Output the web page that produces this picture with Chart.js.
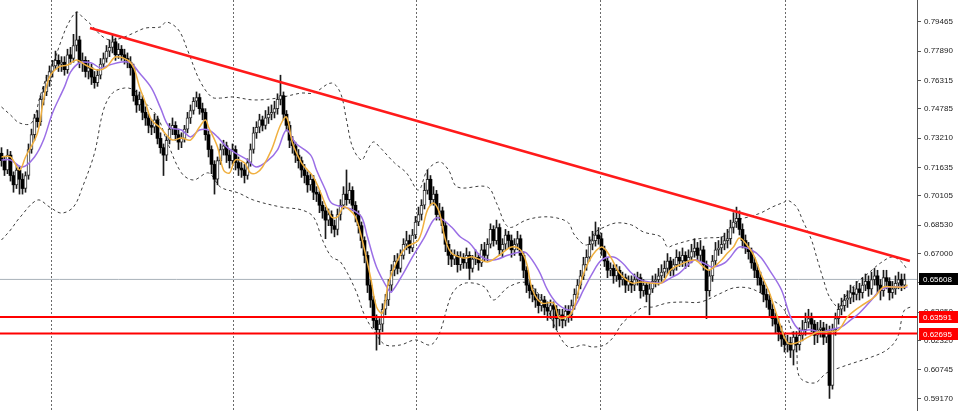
<!DOCTYPE html>
<html>
<head>
<meta charset="utf-8">
<script src="https://cdn.jsdelivr.net/npm/chart.js@4.4.1/dist/chart.umd.min.js"></script>
<style>
html,body{margin:0;padding:0;background:#fff;overflow:hidden}
#wrap{width:960px;height:411px}
</style>
</head>
<body>
<div id="wrap"><canvas id="can" width="960" height="411"></canvas></div>
<script>
// candles, one per bar (bar index = position in the arrays)
const opens = [
0.724,0.720,0.715,0.723,0.712,0.707,0.715,0.710,0.705,0.712,
0.726,0.734,0.743,0.741,0.753,0.757,0.763,0.768,0.771,0.774,
0.772,0.773,0.769,0.777,0.775,0.782,0.785,0.773,0.774,0.768,
0.770,0.765,0.762,0.766,0.772,0.775,0.779,0.781,0.784,0.777,
0.780,0.777,0.775,0.773,0.770,0.755,0.750,0.753,0.746,0.743,
0.739,0.738,0.742,0.732,0.727,0.723,0.731,0.737,0.739,0.734,
0.730,0.732,0.737,0.743,0.747,0.752,0.754,0.748,0.746,0.734,
0.726,0.718,0.710,0.720,0.726,0.728,0.723,0.720,0.726,0.719,
0.716,0.715,0.712,0.719,0.726,0.735,0.738,0.742,0.739,0.743,
0.745,0.746,0.748,0.753,0.755,0.745,0.739,0.731,0.728,0.723,
0.720,0.715,0.712,0.707,0.710,0.703,0.702,0.696,0.693,0.688,
0.691,0.685,0.683,0.691,0.696,0.702,0.699,0.704,0.696,0.691,
0.685,0.677,0.669,0.653,0.645,0.634,0.629,0.632,0.640,0.645,
0.653,0.661,0.666,0.662,0.669,0.675,0.677,0.673,0.680,0.687,
0.691,0.696,0.704,0.710,0.699,0.702,0.691,0.693,0.685,0.675,
0.669,0.667,0.669,0.664,0.668,0.665,0.669,0.662,0.667,0.668,
0.665,0.672,0.669,0.675,0.683,0.677,0.684,0.672,0.675,0.680,
0.677,0.672,0.675,0.678,0.669,0.661,0.653,0.650,0.648,0.645,
0.642,0.645,0.641,0.639,0.642,0.640,0.635,0.637,0.634,0.639,
0.637,0.642,0.648,0.653,0.658,0.664,0.668,0.675,0.677,0.680,
0.678,0.672,0.666,0.661,0.662,0.658,0.661,0.656,0.657,0.653,
0.655,0.653,0.656,0.657,0.650,0.653,0.648,0.651,0.655,0.656,
0.658,0.660,0.662,0.666,0.661,0.664,0.668,0.666,0.669,0.666,
0.668,0.671,0.673,0.669,0.672,0.664,0.650,0.658,0.666,0.672,
0.673,0.675,0.677,0.678,0.684,0.687,0.689,0.683,0.677,0.673,
0.671,0.665,0.661,0.657,0.653,0.648,0.645,0.640,0.635,0.632,
0.628,0.624,0.621,0.622,0.618,0.625,0.621,0.626,0.629,0.633,
0.635,0.632,0.626,0.629,0.630,0.625,0.628,0.599,0.629,0.635,
0.640,0.642,0.645,0.646,0.649,0.648,0.651,0.649,0.653,0.655,
0.651,0.656,0.658,0.653,0.650,0.657,0.655,0.649,0.651,0.654,0.656,0.653
]
const highs = [
0.727,0.722,0.726,0.725,0.714,0.718,0.717,0.713,0.714,0.729,
0.737,0.745,0.747,0.755,0.760,0.766,0.771,0.774,0.779,0.777,
0.776,0.776,0.780,0.781,0.788,0.800,0.787,0.778,0.776,0.774,
0.772,0.768,0.769,0.775,0.778,0.782,0.785,0.788,0.786,0.783,
0.782,0.780,0.778,0.776,0.772,0.758,0.757,0.755,0.749,0.745,
0.742,0.745,0.744,0.735,0.729,0.733,0.740,0.743,0.741,0.737,
0.735,0.739,0.746,0.750,0.754,0.757,0.756,0.751,0.748,0.736,
0.728,0.720,0.722,0.729,0.731,0.730,0.726,0.729,0.728,0.722,
0.719,0.718,0.721,0.729,0.738,0.741,0.745,0.744,0.747,0.749,
0.750,0.752,0.756,0.766,0.757,0.747,0.741,0.733,0.730,0.726,
0.722,0.718,0.714,0.713,0.712,0.706,0.704,0.698,0.695,0.694,
0.693,0.688,0.694,0.699,0.706,0.715,0.708,0.706,0.698,0.693,
0.687,0.679,0.671,0.656,0.647,0.637,0.635,0.643,0.648,0.656,
0.664,0.669,0.670,0.672,0.678,0.682,0.680,0.683,0.690,0.695,
0.699,0.708,0.715,0.712,0.706,0.704,0.697,0.695,0.687,0.677,
0.672,0.672,0.671,0.671,0.670,0.673,0.671,0.669,0.672,0.670,
0.675,0.676,0.678,0.686,0.685,0.688,0.686,0.678,0.683,0.682,
0.680,0.678,0.682,0.680,0.671,0.663,0.656,0.653,0.651,0.648,
0.648,0.647,0.644,0.645,0.644,0.642,0.640,0.640,0.642,0.642,
0.645,0.651,0.656,0.661,0.668,0.672,0.679,0.682,0.687,0.684,
0.681,0.674,0.668,0.665,0.664,0.664,0.663,0.660,0.659,0.658,
0.658,0.659,0.660,0.659,0.656,0.655,0.654,0.658,0.659,0.662,
0.664,0.666,0.670,0.668,0.667,0.672,0.671,0.673,0.671,0.672,
0.675,0.678,0.676,0.677,0.674,0.666,0.661,0.669,0.676,0.677,
0.679,0.681,0.683,0.688,0.692,0.695,0.693,0.686,0.680,0.676,
0.673,0.668,0.664,0.660,0.655,0.651,0.648,0.643,0.638,0.635,
0.631,0.627,0.626,0.625,0.628,0.628,0.630,0.634,0.638,0.640,
0.638,0.634,0.633,0.634,0.633,0.632,0.631,0.632,0.638,0.643,
0.646,0.648,0.650,0.653,0.652,0.655,0.654,0.657,0.659,0.658,
0.660,0.662,0.661,0.656,0.661,0.661,0.657,0.655,0.658,0.660,0.659,0.659
]
const lows = [
0.717,0.712,0.713,0.709,0.703,0.705,0.702,0.702,0.703,0.710,
0.724,0.731,0.738,0.739,0.750,0.755,0.760,0.765,0.769,0.768,
0.768,0.766,0.767,0.772,0.773,0.779,0.770,0.768,0.765,0.764,
0.761,0.759,0.760,0.764,0.770,0.773,0.776,0.778,0.774,0.775,
0.774,0.772,0.770,0.766,0.752,0.746,0.747,0.742,0.739,0.735,
0.734,0.735,0.729,0.724,0.712,0.720,0.729,0.734,0.731,0.726,
0.727,0.730,0.735,0.740,0.745,0.749,0.745,0.742,0.731,0.722,
0.713,0.702,0.707,0.718,0.723,0.719,0.716,0.718,0.715,0.712,
0.711,0.708,0.710,0.717,0.724,0.732,0.735,0.736,0.737,0.740,
0.742,0.743,0.745,0.750,0.742,0.736,0.727,0.724,0.719,0.716,
0.711,0.708,0.703,0.704,0.699,0.698,0.692,0.689,0.678,0.685,
0.681,0.679,0.680,0.688,0.694,0.696,0.697,0.693,0.687,0.681,
0.673,0.665,0.649,0.641,0.630,0.618,0.621,0.628,0.637,0.642,
0.650,0.658,0.659,0.660,0.667,0.672,0.670,0.671,0.678,0.685,
0.688,0.694,0.702,0.696,0.696,0.688,0.688,0.681,0.671,0.664,
0.663,0.664,0.660,0.661,0.662,0.662,0.656,0.660,0.664,0.661,
0.663,0.666,0.666,0.673,0.674,0.675,0.669,0.668,0.672,0.673,
0.668,0.669,0.672,0.666,0.657,0.649,0.646,0.644,0.641,0.638,
0.639,0.637,0.634,0.635,0.630,0.629,0.631,0.630,0.631,0.633,
0.634,0.640,0.646,0.651,0.656,0.661,0.666,0.672,0.674,0.675,
0.669,0.663,0.657,0.658,0.654,0.655,0.652,0.653,0.649,0.650,
0.649,0.650,0.653,0.646,0.647,0.644,0.637,0.649,0.652,0.653,
0.655,0.657,0.659,0.658,0.658,0.661,0.663,0.663,0.662,0.663,
0.665,0.668,0.666,0.666,0.661,0.635,0.647,0.655,0.663,0.669,
0.670,0.672,0.673,0.675,0.681,0.684,0.680,0.673,0.670,0.667,
0.662,0.657,0.653,0.649,0.644,0.641,0.636,0.631,0.627,0.623,
0.620,0.617,0.617,0.614,0.610,0.617,0.618,0.623,0.626,0.630,
0.628,0.621,0.622,0.625,0.621,0.622,0.592,0.597,0.626,0.632,
0.637,0.639,0.641,0.643,0.644,0.645,0.645,0.646,0.650,0.647,
0.648,0.653,0.649,0.645,0.647,0.651,0.645,0.646,0.648,0.651,0.650,0.651
]
const closes = [
0.720,0.715,0.723,0.712,0.707,0.715,0.710,0.705,0.712,0.726,
0.734,0.743,0.741,0.753,0.757,0.763,0.768,0.771,0.774,0.772,
0.773,0.769,0.777,0.775,0.782,0.785,0.773,0.774,0.768,0.770,
0.765,0.762,0.766,0.772,0.775,0.779,0.781,0.784,0.777,0.780,
0.777,0.775,0.773,0.770,0.755,0.750,0.753,0.746,0.743,0.739,
0.738,0.742,0.732,0.727,0.723,0.731,0.737,0.739,0.734,0.730,
0.732,0.737,0.743,0.747,0.752,0.754,0.748,0.746,0.734,0.726,
0.718,0.710,0.720,0.726,0.728,0.723,0.720,0.726,0.719,0.716,
0.715,0.712,0.719,0.726,0.735,0.738,0.742,0.739,0.743,0.745,
0.746,0.748,0.753,0.755,0.745,0.739,0.731,0.728,0.723,0.720,
0.715,0.712,0.707,0.710,0.703,0.702,0.696,0.693,0.688,0.691,
0.685,0.683,0.691,0.696,0.702,0.699,0.704,0.696,0.691,0.685,
0.677,0.669,0.653,0.645,0.634,0.629,0.632,0.640,0.645,0.653,
0.661,0.666,0.662,0.669,0.675,0.677,0.673,0.680,0.687,0.691,
0.696,0.704,0.710,0.699,0.702,0.691,0.693,0.685,0.675,0.669,
0.667,0.669,0.664,0.668,0.665,0.669,0.662,0.667,0.668,0.665,
0.672,0.669,0.675,0.683,0.677,0.684,0.672,0.675,0.680,0.677,
0.672,0.675,0.678,0.669,0.661,0.653,0.650,0.648,0.645,0.642,
0.645,0.641,0.639,0.642,0.640,0.635,0.637,0.634,0.639,0.637,
0.642,0.648,0.653,0.658,0.664,0.668,0.675,0.677,0.680,0.678,
0.672,0.666,0.661,0.662,0.658,0.661,0.656,0.657,0.653,0.655,
0.653,0.656,0.657,0.650,0.653,0.648,0.651,0.655,0.656,0.658,
0.660,0.662,0.666,0.661,0.664,0.668,0.666,0.669,0.666,0.668,
0.671,0.673,0.669,0.672,0.664,0.650,0.658,0.666,0.672,0.673,
0.675,0.677,0.678,0.684,0.687,0.689,0.683,0.677,0.673,0.671,
0.665,0.661,0.657,0.653,0.648,0.645,0.640,0.635,0.632,0.628,
0.624,0.621,0.622,0.618,0.625,0.621,0.626,0.629,0.633,0.635,
0.632,0.626,0.629,0.630,0.625,0.628,0.599,0.629,0.635,0.640,
0.642,0.645,0.646,0.649,0.648,0.651,0.649,0.653,0.655,0.651,
0.656,0.658,0.653,0.650,0.657,0.655,0.649,0.651,0.654,0.656,0.653,0.656
]

// indicator lines: [bar, price]
const fastMA = [[0,0.7220],[3,0.7220],[6,0.7150],[8,0.7220],[12,0.7349],[14,0.7527],[16,0.7650],[19,0.7704],[22,0.7715],[25,0.7742],[28,0.7715],[32,0.7688],[35,0.7704],[38,0.7758],[42,0.7742],[44,0.7704],[46,0.7597],[48,0.7511],[50,0.7419],[53,0.7376],[55,0.7338],[57,0.7311],[60,0.7322],[63,0.7311],[66,0.7381],[68,0.7419],[69,0.7381],[72,0.7274],[74,0.7150],[76,0.7134],[78,0.7204],[81,0.7188],[83,0.7134],[85,0.7134],[87,0.7166],[90,0.7258],[93,0.7392],[95,0.7435],[97,0.7295],[100,0.7188],[102,0.7150],[104,0.7112],[106,0.7042],[110,0.6897],[112,0.6897],[114,0.6951],[116,0.6935],[118,0.6897],[120,0.6789],[123,0.6574],[125,0.6412],[127,0.6380],[129,0.6542],[132,0.6665],[135,0.6735],[139,0.6773],[142,0.6935],[144,0.6972],[146,0.6918],[148,0.6773],[150,0.6703],[154,0.6676],[157,0.6682],[162,0.6655],[166,0.6692],[170,0.6735],[173,0.6719],[175,0.6649],[177,0.6504],[180,0.6434],[184,0.6434],[186,0.6353],[190,0.6380],[193,0.6542],[196,0.6665],[200,0.6735],[203,0.6682],[206,0.6595],[210,0.6542],[213,0.6547],[216,0.6542],[220,0.6542],[223,0.6611],[226,0.6639],[231,0.6665],[234,0.6628],[236,0.6611],[240,0.6665],[242,0.6703],[244,0.6735],[246,0.6784],[249,0.6735],[251,0.6682],[253,0.6595],[256,0.6488],[259,0.6342],[262,0.6219],[265,0.6219],[269,0.6251],[272,0.6278],[275,0.6278],[279,0.6289],[282,0.6359],[286,0.6412],[291,0.6466],[294,0.6520],[297,0.6520],[301,0.6520],[302,0.6531]]
const slowMA = [[0,0.7204],[3,0.7204],[7,0.7166],[11,0.7220],[14,0.7311],[17,0.7457],[21,0.7597],[23,0.7677],[26,0.7726],[30,0.7726],[33,0.7699],[36,0.7715],[40,0.7731],[43,0.7726],[46,0.7672],[50,0.7591],[53,0.7484],[56,0.7381],[60,0.7365],[63,0.7328],[66,0.7365],[69,0.7365],[72,0.7328],[75,0.7274],[78,0.7241],[82,0.7204],[85,0.7166],[89,0.7204],[92,0.7258],[95,0.7365],[98,0.7295],[103,0.7231],[105,0.7150],[108,0.7042],[110,0.6972],[114,0.6951],[117,0.6935],[120,0.6897],[122,0.6789],[125,0.6628],[129,0.6504],[130,0.6493],[134,0.6595],[137,0.6682],[141,0.6789],[144,0.6881],[146,0.6892],[150,0.6843],[153,0.6789],[156,0.6757],[160,0.6682],[164,0.6665],[169,0.6692],[173,0.6708],[175,0.6703],[179,0.6611],[182,0.6504],[185,0.6434],[189,0.6396],[191,0.6412],[194,0.6504],[197,0.6595],[200,0.6665],[204,0.6682],[207,0.6649],[210,0.6595],[213,0.6558],[216,0.6547],[220,0.6542],[223,0.6568],[226,0.6595],[231,0.6665],[234,0.6649],[237,0.6628],[241,0.6649],[243,0.6682],[246,0.6735],[250,0.6719],[253,0.6682],[256,0.6611],[260,0.6504],[263,0.6359],[266,0.6289],[270,0.6289],[273,0.6278],[276,0.6289],[280,0.6305],[283,0.6342],[286,0.6380],[290,0.6450],[293,0.6504],[296,0.6520],[300,0.6520],[302,0.6520]]
const upperBand = [[0,0.7489],[3,0.7446],[6,0.7403],[10,0.7403],[13,0.7554],[15,0.7650],[17,0.7715],[20,0.7850],[22,0.7930],[25,0.8000],[27,0.7973],[30,0.7930],[33,0.7877],[36,0.7850],[40,0.7860],[44,0.7887],[48,0.7914],[53,0.7920],[55,0.7947],[59,0.7904],[62,0.7796],[66,0.7634],[70,0.7543],[73,0.7537],[77,0.7543],[84,0.7527],[92,0.7537],[100,0.7564],[104,0.7564],[110,0.7618],[113,0.7564],[115,0.7419],[117,0.7274],[120,0.7204],[122,0.7258],[124,0.7301],[126,0.7274],[131,0.7188],[135,0.7134],[139,0.7042],[142,0.7150],[146,0.7193],[149,0.7150],[152,0.7058],[162,0.7058],[165,0.6972],[169,0.6843],[175,0.6881],[180,0.6897],[185,0.6892],[189,0.6865],[191,0.6800],[195,0.6746],[198,0.6816],[201,0.6843],[205,0.6865],[210,0.6854],[214,0.6816],[220,0.6789],[222,0.6735],[224,0.6746],[230,0.6773],[235,0.6784],[240,0.6789],[242,0.6811],[246,0.6881],[249,0.6897],[253,0.6918],[257,0.6951],[261,0.6978],[262,0.6988],[265,0.6951],[267,0.6881],[270,0.6773],[272,0.6665],[274,0.6558],[276,0.6466],[279,0.6412],[281,0.6461],[285,0.6542],[289,0.6595],[293,0.6649],[297,0.6682],[300,0.6655],[302,0.6611]]
const lowerBand = [[0,0.6773],[3,0.6827],[6,0.6892],[12,0.6988],[16,0.6951],[20,0.6918],[24,0.6951],[27,0.7058],[31,0.7241],[34,0.7473],[37,0.7564],[41,0.7591],[44,0.7581],[47,0.7527],[52,0.7435],[55,0.7311],[60,0.7134],[64,0.7096],[69,0.7134],[73,0.7058],[79,0.7026],[84,0.6988],[93,0.6951],[100,0.6935],[104,0.6897],[107,0.6773],[110,0.6682],[113,0.6655],[118,0.6504],[121,0.6369],[125,0.6262],[128,0.6208],[133,0.6208],[138,0.6235],[143,0.6208],[146,0.6272],[149,0.6434],[151,0.6504],[155,0.6542],[161,0.6520],[164,0.6450],[169,0.6520],[175,0.6542],[181,0.6434],[185,0.6289],[189,0.6197],[194,0.6208],[197,0.6197],[201,0.6208],[204,0.6251],[207,0.6326],[211,0.6380],[214,0.6412],[217,0.6412],[222,0.6434],[227,0.6439],[233,0.6439],[240,0.6488],[244,0.6515],[249,0.6515],[253,0.6488],[257,0.6450],[261,0.6396],[263,0.6305],[265,0.6181],[266,0.6036],[271,0.6003],[275,0.6057],[280,0.6089],[284,0.6111],[290,0.6143],[294,0.6170],[297,0.6208],[299,0.6262],[300,0.6342],[301,0.6396],[303,0.6412]]

// drawn objects
const trendLine = [[29.5,0.7914],[302.8,0.6660]]
const supportLevels = [0.63591, 0.62695]
const lastPrice = 0.65608

// axis
const priceTicks = [0.79465,0.77890,0.76315,0.74785,0.73210,0.71635,0.70105,0.68530,0.67000,0.65425,0.63850,0.62320,0.60745,0.59170]
const periodSeparators = [16.8, 77.5, 138.5, 199.8, 261.5]

const xMin = -0.5
const xMax = 305.17
const pts = arr => arr.map(p => ({x: p[0], y: p[1]}))
const flat = v => [{x: xMin, y: v}, {x: xMax, y: v}]

const bodies = closes.map((c, i) => ({x: i, y: [opens[i], c]}))
const wicks = closes.map((c, i) => ({x: i, y: [lows[i], highs[i]]}))
const isUp = i => closes[i] >= opens[i]

function lineSet(data, color, width, dash, order) {
    return {
        type: 'line', data: data, borderColor: color, borderWidth: width,
        borderDash: dash || [], pointRadius: 0, tension: 0.35, order: order,
        fill: false
    }
}

// price boxes on the right axis
const boxPlugin = {
    id: 'boxes',
    afterDraw(chart) {
        const ctx = chart.ctx
        const y = chart.scales.y
        const boxes = [[lastPrice, '#000000'], [supportLevels[0], '#ff0000'], [supportLevels[1], '#ff0000']]
        ctx.save()
        ctx.font = '8px "Liberation Sans"'
        ctx.textBaseline = 'middle'
        boxes.forEach(b => {
            const py = Math.round(y.getPixelForValue(b[0]))
            ctx.fillStyle = b[1]
            ctx.fillRect(919, py - 6, 39, 12)
            ctx.fillStyle = '#ffffff'
            ctx.fillText(b[0].toFixed(5), 923, py + 0.5)
        })
        ctx.restore()
    }
}

let grapharea = document.getElementById('can')

const config = {
    type: 'bar',
    data: {
        datasets: [
            lineSet(pts(fastMA), '#f0b040', 1.5, null, 0),
            lineSet(pts(slowMA), '#9b6fe6', 1.5, null, 0),
            lineSet(pts(trendLine), '#ff1a1a', 2.5, null, 0),
            lineSet(flat(supportLevels[0]), '#ff0000', 2, null, 0),
            lineSet(flat(supportLevels[1]), '#ff0000', 2, null, 0),
            {
                type: 'bar', data: bodies, barThickness: 3, grouped: false, order: 2,
                backgroundColor: ctx => isUp(ctx.dataIndex) ? '#ffffff' : '#000000',
                borderColor: '#333333',
                borderWidth: ctx => isUp(ctx.dataIndex) ? 1 : 0,
                borderSkipped: false
            },
            {
                type: 'bar', data: wicks, barThickness: 1, grouped: false, order: 3,
                backgroundColor: '#1a1a1a', borderWidth: 0
            },
            lineSet(pts(upperBand), '#3c3c3c', 1, [3, 3], 4),
            lineSet(pts(lowerBand), '#3c3c3c', 1, [3, 3], 4),
            lineSet(flat(lastPrice), '#a9b1b9', 1, null, 5)
        ]
    },
    options: {
        responsive: false,
        animation: false,
        devicePixelRatio: 1,
        layout: {padding: 0},
        plugins: {legend: {display: false}, tooltip: {enabled: false}},
        scales: {
            x: {
                type: 'linear', min: xMin, max: xMax, offset: false,
                afterBuildTicks: s => { s.ticks = periodSeparators.map(v => ({value: v})) },
                afterFit: s => { s.height = 0; s.paddingLeft = 0; s.paddingRight = 0 },
                ticks: {display: false},
                grid: {color: '#6a6a6a', drawTicks: false, lineWidth: 1, offset: false},
                border: {display: false, dash: [2, 2]}
            },
            y: {
                position: 'right', min: 0.58524, max: 0.806493,
                afterBuildTicks: s => { s.ticks = priceTicks.map(v => ({value: v})) },
                afterFit: s => { s.width = 43; s.paddingTop = 0; s.paddingBottom = 0 },
                ticks: {
                    font: {family: 'Liberation Sans', size: 8}, color: '#222', padding: 3,
                    callback: v => Number(v).toFixed(5)
                },
                grid: {drawOnChartArea: false, tickLength: 4, color: '#555'},
                border: {color: '#555'}
            }
        }
    },
    plugins: [boxPlugin]
}

let chart = new Chart(grapharea, config)
</script>
</body>
</html>
